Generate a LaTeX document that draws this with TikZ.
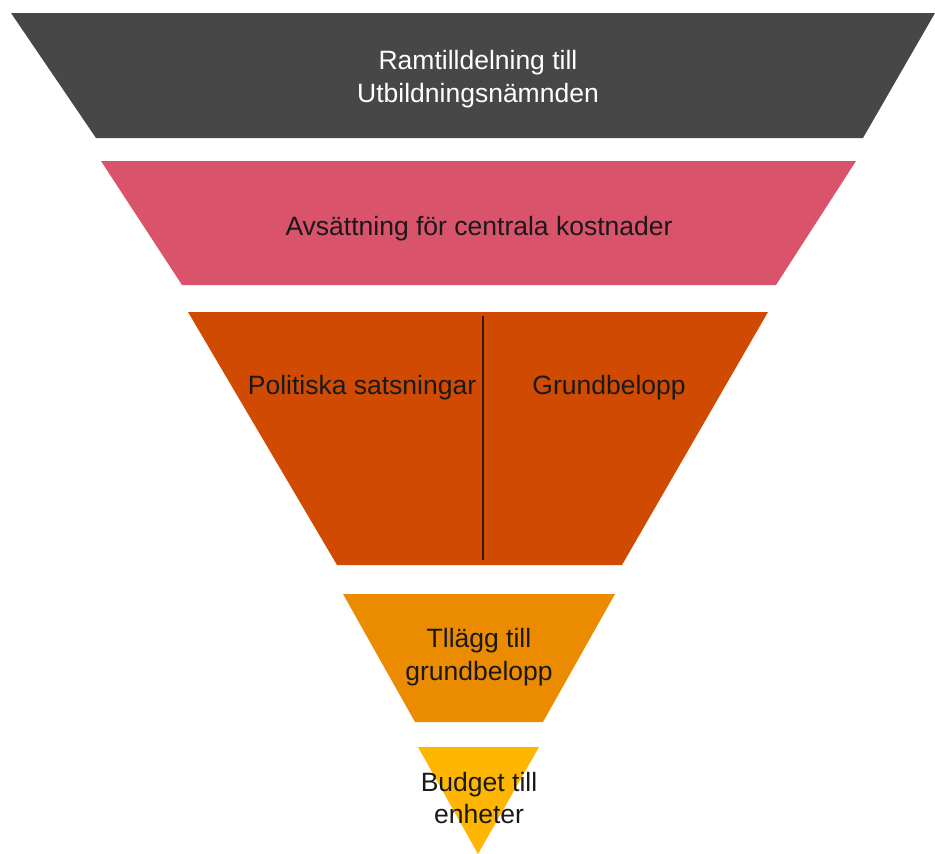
\documentclass[tikz,border=0pt]{standalone}
\usepackage{fontspec}
\setmainfont{Liberation Sans}
\definecolor{cgray}{HTML}{474747}
\definecolor{cpink}{HTML}{D9536B}
\definecolor{cred}{HTML}{D04A02}
\definecolor{corange}{HTML}{EB8C00}
\definecolor{cyellow}{HTML}{FFB600}
\definecolor{cline}{HTML}{3A1600}
\begin{document}
\begin{tikzpicture}[x=1pt,y=-1pt,
  lbl/.style={align=center,font=\fontsize{26.5}{32.5}\selectfont,text=black!90,inner sep=0pt},
  wlbl/.style={lbl,text=white}]
\useasboundingbox (0,0) rectangle (935,854);
% funnel levels
\fill[cgray] (11,13) -- (935,13) -- (863,138) -- (96,138) -- cycle;
\fill[cpink] (101,161) -- (856,161) -- (776,285) -- (182,285) -- cycle;
\fill[cred] (188,312) -- (768,312) -- (622,565) -- (337,565) -- cycle;
\fill[corange] (343,594) -- (615,594) -- (543,722) -- (415,722) -- cycle;
\fill[cyellow] (418,747) -- (539,747) -- (478,854) -- cycle;
% divider
\coordinate (dtop) at (483,316);
\coordinate (dbot) at (483,560);
\draw[cline,line width=2.5pt] (dtop) -- (dbot);
% labels
\node[wlbl] (t1) at (478,79) {Ramtilldelning till\\Utbildningsnämnden};
\node[lbl] (t2) at (479,229) {Avsättning för centrala kostnader};
\node[lbl] (t3a) at (362,388) {Politiska satsningar};
\node[lbl] (t3b) at (609,388) {Grundbelopp};
\node[lbl] (t4) at (479,657) {Tllägg till\\grundbelopp};
\node[lbl] (t5) at (479,798) {Budget till\\enheter};
\end{tikzpicture}
\end{document}
